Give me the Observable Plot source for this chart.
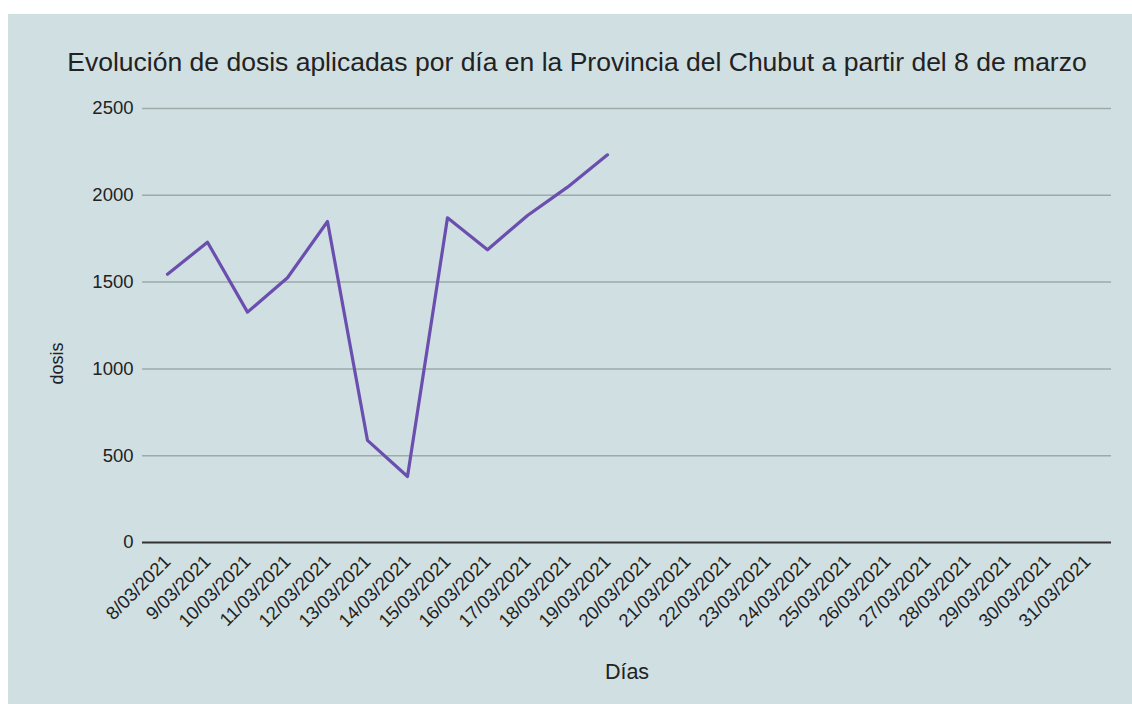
<!DOCTYPE html>
<html>
<head>
<meta charset="utf-8">
<script src="https://cdn.jsdelivr.net/npm/d3@7"></script>
<script src="https://cdn.jsdelivr.net/npm/@observablehq/plot@0.6"></script>
<style>
  html, body { margin: 0; padding: 0; background: #ffffff; }
  #panel { position: absolute; left: 8px; top: 14px; width: 1124px; height: 690px; background: #d0dfe2; overflow: hidden; }
  #title { position: absolute; left: 0; top: 35px; width: 1138px; text-align: center;
           font-family: Arial, "Liberation Sans", sans-serif; font-size: 26.5px; color: #222; line-height: 26px; white-space: nowrap; }
  #chart { position: absolute; left: 0; top: 76px; }
</style>
</head>
<body>
<div id="panel">
  <div id="title">Evolución de dosis aplicadas por día en la Provincia del Chubut a partir del 8 de marzo</div>
  <div id="chart"></div>
</div>
<script>
const dias = ["8/03/2021","9/03/2021","10/03/2021","11/03/2021","12/03/2021","13/03/2021","14/03/2021","15/03/2021","16/03/2021","17/03/2021","18/03/2021","19/03/2021","20/03/2021","21/03/2021","22/03/2021","23/03/2021","24/03/2021","25/03/2021","26/03/2021","27/03/2021","28/03/2021","29/03/2021","30/03/2021","31/03/2021"];
const diasConDatos = dias.slice(0, 12);
const dosis = [1545, 1730, 1327, 1525, 1849, 588, 380, 1870, 1686, 1884, 2047, 2233];
const yTicks = [0, 500, 1000, 1500, 2000, 2500];

const data = diasConDatos.map((d, i) => ({dia: d, dosis: dosis[i]}));

const font = 'Arial, "Liberation Sans", sans-serif';
const chart = Plot.plot({
  width: 1124,
  height: 614,
  marginTop: 18,
  marginBottom: 162,
  marginLeft: 134,
  marginRight: 21,
  style: {background: "transparent", fontFamily: font, color: "#222"},
  x: {type: "point", domain: dias, padding: 0.5},
  y: {domain: [0, 2500]},
  marks: [
    Plot.gridY(yTicks.filter(t => t > 0), {stroke: "#9eaaa8", strokeOpacity: 1, strokeWidth: 1.5}),
    Plot.ruleY([0], {stroke: "#333", strokeWidth: 2}),
    Plot.axisY({ticks: yTicks, tickFormat: d3.format("d"), tickSize: 0, tickPadding: 9, fontSize: 18.5, label: "dosis", labelAnchor: "center", labelOffset: 92, labelArrow: "none"}),
    Plot.axisX({tickSize: 0, tickRotate: -45, tickPadding: 16, dx: 0, fontSize: 18.5, label: "Días", labelAnchor: "center", labelOffset: 136, labelArrow: "none"}),
    Plot.line(data, {x: "dia", y: "dosis", stroke: "#6a4fae", strokeWidth: 3.2})
  ]
});
chart.querySelectorAll("text").forEach(t => t.setAttribute("fill", "#222"));
const xl = chart.querySelector('g[aria-label="x-axis label"]');
if (xl) { xl.setAttribute("font-size", "21.5"); xl.querySelectorAll("text").forEach(t => t.setAttribute("font-size", "21.5")); }
const yl = chart.querySelector('g[aria-label="y-axis label"]');
if (yl) {
  yl.setAttribute("font-size", "18");
  yl.querySelectorAll("text").forEach(t => t.setAttribute("font-size", "18"));
  const tr = yl.getAttribute("transform") || "";
  yl.setAttribute("transform", "translate(0,38) " + tr);
}
document.getElementById("chart").appendChild(chart);
</script>
</body>
</html>
